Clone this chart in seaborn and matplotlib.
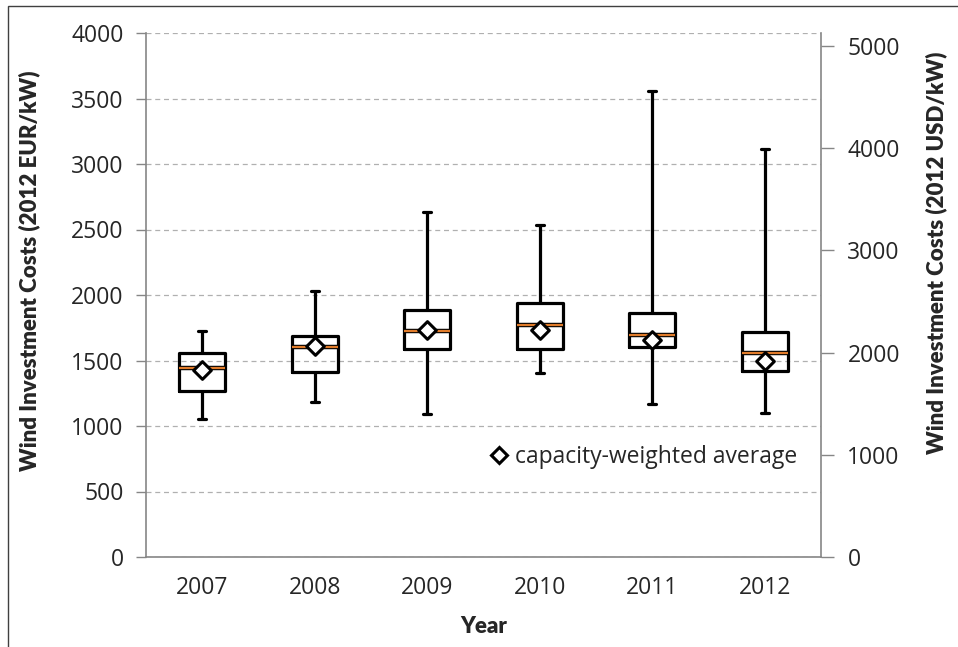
import numpy as np
import pandas as pd
import seaborn as sns
import matplotlib.pyplot as plt
import matplotlib.patheffects as pe
from matplotlib.lines import Line2D
from matplotlib.patches import Rectangle

# Box plot summary (2012 EUR/kW)
years = ["2007", "2008", "2009", "2010", "2011", "2012"]
whisker_low = [1050, 1185, 1095, 1405, 1165, 1100]
q1 = [1270, 1410, 1585, 1590, 1605, 1420]
median = [1440, 1600, 1728, 1770, 1692, 1555]
q3 = [1555, 1685, 1885, 1942, 1860, 1718]
whisker_high = [1722, 2030, 2636, 2532, 3557, 3114]
weighted_avg = [1425, 1610, 1735, 1733, 1656, 1498]

EUR_TO_USD = 1.282
GREY = "#868686"
ORANGE = "#e07b2a"


def build_frame() -> pd.DataFrame:
    """Five points per year so the quartiles land exactly on the read values."""
    rows = []
    for i, y in enumerate(years):
        for v in (whisker_low[i], q1[i], median[i], q3[i], whisker_high[i]):
            rows.append({"year": y, "cost": v})
    return pd.DataFrame(rows)


sns.set_style("white")
plt.rcParams["font.family"] = ["Open Sans", "DejaVu Sans"]

fig = plt.figure(figsize=(9.58, 6.47), dpi=100)
ax = fig.add_axes([146 / 958, 1 - 557 / 647, (821 - 146) / 958, (557 - 33) / 647])

df = build_frame()
line_kws = dict(color="black", linewidth=2.3)
sns.boxplot(
    data=df, x="year", y="cost", order=years, whis=(0, 100), width=0.41,
    fill=False, color="black", linewidth=2.3, ax=ax,
    boxprops=line_kws, whiskerprops=line_kws, capprops=line_kws,
    medianprops=dict(color=ORANGE, linewidth=1.6,
                     path_effects=[pe.Stroke(linewidth=3.2, foreground="black"),
                                   pe.Normal()]),
    capwidths=0.07,
)

avg_df = pd.DataFrame({"year": years, "avg": weighted_avg})
sns.stripplot(data=avg_df, x="year", y="avg", order=years, jitter=False,
              marker="D", size=9, color="white", edgecolor="black",
              linewidth=2.2, ax=ax, zorder=5)

ax.set_ylim(0, 4000)
ax.set_xlim(-0.5, len(years) - 0.5)
ax.set_yticks(np.arange(0, 4001, 500))
ax.yaxis.grid(True, linestyle=(0, (4, 3)), color="#b0b0b0", linewidth=0.9)
ax.set_axisbelow(True)

ax.set_xticks(np.arange(len(years)))
ax.set_xticklabels(years)
ax.set_xticks(np.arange(-0.5, len(years) + 0.5, 1), minor=True)
ax.tick_params(axis="x", which="major", length=0, pad=14, labelsize=16.5)
ax.tick_params(axis="x", which="minor", length=8, color=GREY, width=1)
ax.tick_params(axis="y", length=7, color=GREY, width=1, labelsize=16.5, pad=9)

for side in ("top", "right"):
    ax.spines[side].set_visible(False)
for side in ("left", "bottom"):
    ax.spines[side].set_color(GREY)
    ax.spines[side].set_linewidth(1.2)

label_font = dict(family=["Lato", "DejaVu Sans"], fontweight="heavy", fontsize=16)
ax.set_xlabel("Year", **label_font)
ax.xaxis.set_label_coords(0.5, -0.113)
ax.set_ylabel("Wind Investment Costs (2012 EUR/kW)", **label_font)
ax.yaxis.set_label_coords(-0.157, 0.546)

# Secondary USD axis
ax2 = ax.twinx()
ax2.set_ylim(0, 4000 * EUR_TO_USD)
ax2.set_yticks(np.arange(0, 5001, 1000))
ax2.tick_params(axis="y", length=9, color=GREY, width=1, labelsize=16.5, pad=10)
for side in ("top", "left", "bottom"):
    ax2.spines[side].set_visible(False)
ax2.spines["right"].set_color(GREY)
ax2.spines["right"].set_linewidth(1.2)
ax2.set_ylabel("Wind Investment Costs (2012 USD/kW)", **label_font)
ax2.yaxis.set_label_coords(1.154, 0.58)

handle = Line2D([], [], linestyle="none", marker="D", markersize=8,
                markerfacecolor="white", markeredgecolor="black",
                markeredgewidth=2.2)
ax.legend([handle], ["capacity-weighted average"], loc="center left",
          bbox_to_anchor=(0.506, 0.19), frameon=False, fontsize=16.5,
          handletextpad=0.2, handlelength=1.0, borderpad=0.0,
          borderaxespad=0.0)

# Outer chart border
fig.patches.append(Rectangle((8 / 958, -0.01), 1.0, 1 - 6 / 647 + 0.01,
                             transform=fig.transFigure, fill=False,
                             edgecolor="#404040", linewidth=1.0))

fig.savefig("out.png", dpi=100)
